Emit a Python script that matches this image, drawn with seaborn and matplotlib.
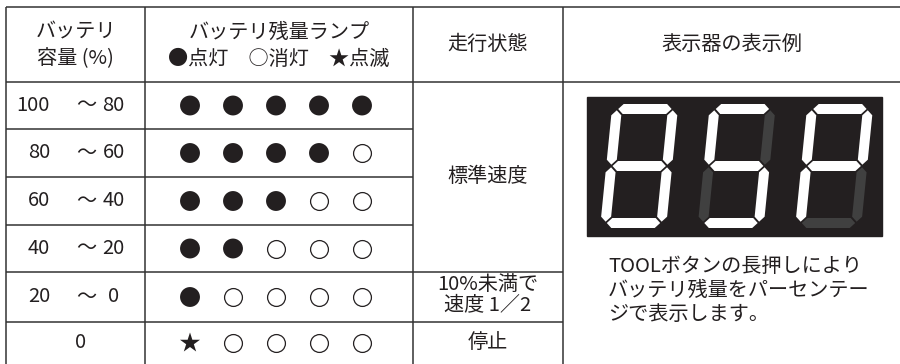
import matplotlib
matplotlib.use("Agg")
import matplotlib.pyplot as plt
from matplotlib.patches import Polygon, Rectangle
import pandas as pd
import seaborn as sns

# table content
CAP_HIGH = ["100", "80", "60", "40", "20", "0"]
CAP_LOW = ["80", "60", "40", "20", "0", None]
# lamp states per row: 1 = lit, 0 = off, 2 = blinking
LAMPS = [
    [1, 1, 1, 1, 1],
    [1, 1, 1, 1, 0],
    [1, 1, 1, 0, 0],
    [1, 1, 0, 0, 0],
    [1, 0, 0, 0, 0],
    [2, 0, 0, 0, 0],
]
STATUS_TEXT = ["標準速度", "10%未満で\n速度 1／2", "停止"]
STATUS_ROWS = [(0, 3), (4, 4), (5, 5)]
HEADERS = ["バッテリ\n容量 (%)", "バッテリ残量ランプ\n●点灯　○消灯　★点滅", "走行状態", "表示器の表示例"]
DISPLAY = ["8", "5", "P"]
NOTE = ["TOOLボタンの長押しにより", "バッテリ残量をパーセンテー", "ジで表示します。"]

SEGMENTS = {"8": "abcdefg", "5": "acdfg", "P": "abefg"}

# layout (pixel coords)
COL_X = [6, 145, 413, 563, 900]
ROW_Y = [82, 129, 177, 225, 272, 322, 364]
TOP = 7
INK = "#231f20"
LINE = "#333333"

sns.set_theme(style="white")
plt.rcParams["font.family"] = ["Noto Sans CJK JP", "DejaVu Sans"]

fig = plt.figure(figsize=(9, 3.64), dpi=100)
ax = fig.add_axes([0, 0, 1, 1])
ax.set_xlim(0, 900)
ax.set_ylim(364, 0)
ax.axis("off")

lw = 1.1
# grid lines
ax.hlines([TOP, ROW_Y[0]], COL_X[0], COL_X[-1], color=LINE, lw=lw)
ax.hlines(ROW_Y[1:4], COL_X[0], COL_X[2], color=LINE, lw=lw)
ax.hlines(ROW_Y[4:6], COL_X[0], COL_X[3], color=LINE, lw=lw)
ax.vlines(COL_X[:4], TOP, 364, color=LINE, lw=lw)

fs = 14.5
# headers
hx = [(COL_X[i] + COL_X[i + 1]) / 2 for i in range(4)]
hx[1] = 279
for i, h in enumerate(HEADERS):
    lines = h.split("\n")
    if len(lines) == 2:
        ax.text(hx[i], 32, lines[0], ha="center", va="center", fontsize=fs, color=INK)
        ax.text(hx[i], 59, lines[1], ha="center", va="center", fontsize=fs, color=INK)
    else:
        ax.text(hx[i], 44, lines[0], ha="center", va="center", fontsize=fs, color=INK)

row_c = [(ROW_Y[i] + ROW_Y[i + 1]) / 2 for i in range(6)]

# capacity column
for i, (hi, lo) in enumerate(zip(CAP_HIGH, CAP_LOW)):
    if lo is None:
        ax.text(81, row_c[i], hi, ha="center", va="center", fontsize=fs, color=INK)
    else:
        ax.text(50, row_c[i], hi, ha="right", va="center", fontsize=fs, color=INK)
        ax.text(86, row_c[i], "～", ha="center", va="center", fontsize=fs, color=INK)
        ax.text(113.5, row_c[i], lo, ha="center", va="center", fontsize=fs, color=INK)

# lamps
recs = []
for r, states in enumerate(LAMPS):
    for k, st in enumerate(states):
        recs.append({"x": 190 + 43 * k, "y": row_c[r], "state": st})
lamps = pd.DataFrame(recs)
on = lamps[lamps.state == 1]
off = lamps[lamps.state == 0]
blink = lamps[lamps.state == 2]
sns.scatterplot(data=on, x="x", y="y", ax=ax, marker="o", s=205, color=INK,
                edgecolor="none", linewidth=0, legend=False)
sns.scatterplot(data=off, x="x", y="y", ax=ax, marker="o", s=165, facecolor="white",
                edgecolor=INK, linewidth=0.9, legend=False)
sns.scatterplot(data=blink, x="x", y="y", ax=ax, marker="*", s=230, color=INK,
                edgecolor="none", linewidth=0, legend=False)
ax.set_xlim(0, 900)
ax.set_ylim(364, 0)
ax.set_xlabel("")
ax.set_ylabel("")

# status column
sx = hx[2]
for txt, (r0, r1) in zip(STATUS_TEXT, STATUS_ROWS):
    yc = (ROW_Y[r0] + ROW_Y[r1 + 1]) / 2
    lines = txt.split("\n")
    if len(lines) == 1:
        ax.text(sx, yc, txt, ha="center", va="center", fontsize=fs, color=INK)
    else:
        ax.text(sx, yc - 12, lines[0], ha="center", va="center", fontsize=fs, color=INK)
        ax.text(sx, yc + 8, lines[1], ha="center", va="center", fontsize=fs, color=INK)

# seven segment display
ax.add_patch(Rectangle((587, 97), 295, 139, color=INK, zorder=2))
W, H, t, g, sl = 66, 124, 10, 1.3, 0.1
xl, xr, yb, ym, yt = t / 2, W - t / 2, t / 2, H / 2, H - t / 2


def hseg(xa, xb, yc):
    return [(xa, yc), (xa + t / 2, yc + t / 2), (xb - t / 2, yc + t / 2),
            (xb, yc), (xb - t / 2, yc - t / 2), (xa + t / 2, yc - t / 2)]


def vseg(ya, yb_, xc):
    return [(xc, ya), (xc + t / 2, ya + t / 2), (xc + t / 2, yb_ - t / 2),
            (xc, yb_), (xc - t / 2, yb_ - t / 2), (xc - t / 2, ya + t / 2)]


seg_shapes = {
    "a": hseg(xl + g, xr - g, yt),
    "b": vseg(ym + g, yt - g, xr),
    "c": vseg(yb + g, ym - g, xr),
    "d": hseg(xl + g, xr - g, yb),
    "e": vseg(yb + g, ym - g, xl),
    "f": vseg(ym + g, yt - g, xl),
    "g": hseg(xl + g, xr - g, ym),
}

base = 228
for i, ch in enumerate(DISPLAY):
    x0 = 600 + 97.5 * i
    lit = SEGMENTS[ch]
    for name, pts in seg_shapes.items():
        tp = [(x0 + x + sl * y, base - y) for x, y in pts]
        col = "white" if name in lit else "#404040"
        ax.add_patch(Polygon(tp, closed=True, facecolor=col, edgecolor="none", zorder=3))

# note
for j, line in enumerate(NOTE):
    ax.text(608, 266 + 24.5 * j, line, ha="left", va="center", fontsize=fs, color=INK)

fig.savefig("out.png", dpi=100, facecolor="white")
